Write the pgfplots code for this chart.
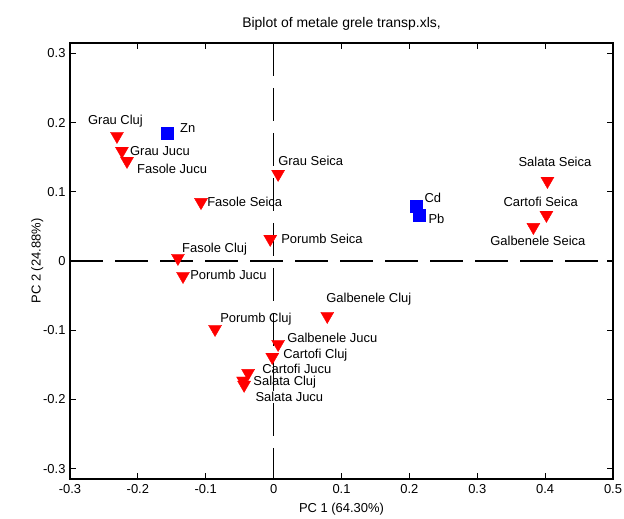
\documentclass[border=0pt]{standalone}
\usepackage{pgfplots}
\pgfplotsset{compat=1.18}
\usepackage{fontspec}
\setmainfont{Liberation Sans}
\begin{document}
\fontsize{13}{15}\selectfont
\begin{tikzpicture}[x=1bp,y=1bp]
\useasboundingbox (-70,-40) rectangle (554,479);
\begin{axis}[
  at={(0,0)}, anchor=south west,
  width=543bp, height=436bp, scale only axis,
  xmin=-0.3, xmax=0.5, ymin=-0.315, ymax=0.315,
  xtick={-0.3,-0.2,-0.1,0,0.1,0.2,0.3,0.4,0.5},
  xticklabels={-0.3,-0.2,-0.1,0,0.1,0.2,0.3,0.4,0.5},
  ytick={-0.3,-0.2,-0.1,0,0.1,0.2,0.3},
  yticklabels={-0.3,-0.2,-0.1,0,0.1,0.2,0.3},
  tick align=inside, major tick length=6bp,
  tick style={black, line width=1.2pt},
  axis line style={black, line width=1.4pt},
  /pgf/number format/assume math mode=true,
  tick label style={font=\fontsize{13}{15}\selectfont},
  xticklabel style={yshift=-1bp},
  title={Biplot of metale grele transp.xls,},
  title style={font=\fontsize{14}{16}\selectfont, yshift=2bp},
  xlabel={PC 1 (64.30\%)},
  ylabel={PC 2 (24.88\%)},
  label style={font=\fontsize{13}{15}\selectfont},
  xlabel style={yshift=-1bp},
  ylabel style={yshift=-9bp},
  clip=false,
]
% reference lines
\addplot[black, line width=1.4pt, dash pattern=on 33bp off 12bp] coordinates {(-0.3,0) (0.5,0)};
\addplot[black, line width=1.4pt, dash pattern=on 33bp off 12bp] coordinates {(0,0.315) (0,-0.315)};
% observations (scores)
\addplot[only marks, mark=triangle*, mark size=7.5bp, red, mark options={rotate=180, fill=red, draw=red}] coordinates {
(-0.2308,0.1806) (-0.2235,0.1590) (-0.2160,0.1445) (-0.1070,0.0850)
(0.0066,0.1257) (-0.0050,0.0318) (-0.1410,0.0043) (-0.1335,-0.0217)
(0.0790,-0.0795) (-0.0863,-0.0983) (0.0066,-0.1200) (-0.0020,-0.1387)
(-0.0376,-0.1620) (-0.0450,-0.1730) (-0.0435,-0.1790)
(0.4034,0.1156) (0.4019,0.0665) (0.3827,0.0490)
};
% variables (loadings)
\addplot[only marks, mark=square*, mark size=6bp, blue, mark options={fill=blue, draw=blue}] coordinates {
(-0.1570,0.1850) (0.2100,0.0795) (0.2146,0.0665)
};
% labels
\begin{scope}[every node/.style={anchor=west, inner sep=0pt, font=\fontsize{13}{15}\selectfont}]
\node at (axis cs:-0.2736,0.2023) {Grau Cluj};
\node at (axis cs:-0.2117,0.1590) {Grau Jucu};
\node at (axis cs:-0.2013,0.1330) {Fasole Jucu};
\node at (axis cs:-0.0980,0.0853) {Fasole Seica};
\node at (axis cs:0.0066,0.1445) {Grau Seica};
\node at (axis cs:0.0110,0.0318) {Porumb Seica};
\node at (axis cs:-0.1350,0.0173) {Fasole Cluj};
\node at (axis cs:-0.1230,-0.0202) {Porumb Jucu};
\node at (axis cs:0.0774,-0.0549) {Galbenele Cluj};
\node at (axis cs:-0.0789,-0.0838) {Porumb Cluj};
\node at (axis cs:0.0199,-0.1113) {Galbenele Jucu};
\node at (axis cs:0.0140,-0.1358) {Cartofi Cluj};
\node at (axis cs:-0.0170,-0.1560) {Cartofi Jucu};
\node at (axis cs:-0.0300,-0.1749) {Salata Cluj};
\node at (axis cs:-0.0270,-0.1965) {Salata Jucu};
\node at (axis cs:0.3606,0.1430) {Salata Seica};
\node at (axis cs:0.3385,0.0853) {Cartofi Seica};
\node at (axis cs:0.3190,0.0289) {Galbenele Seica};
\node at (axis cs:-0.1380,0.1920) {Zn};
\node at (axis cs:0.2220,0.0910) {Cd};
\node at (axis cs:0.2280,0.0607) {Pb};
\end{scope}
\end{axis}
\end{tikzpicture}
\end{document}
